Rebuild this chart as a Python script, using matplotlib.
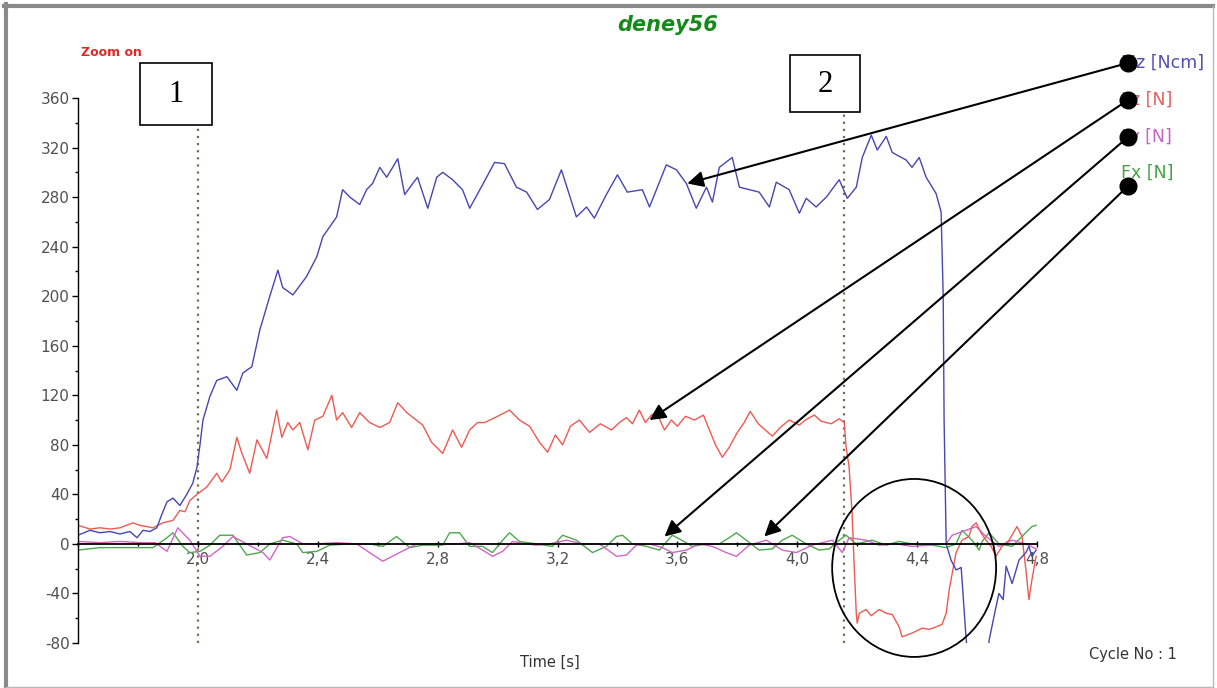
import numpy as np
import matplotlib
matplotlib.use("Agg")
import matplotlib.pyplot as plt
from matplotlib.patches import Ellipse, Rectangle
from matplotlib.lines import Line2D
from matplotlib.ticker import MultipleLocator, FuncFormatter

plt.rcParams["axes.unicode_minus"] = False

# ---------------- measured signals (time in s) ----------------
mz_t = [1.600, 1.640, 1.673, 1.707, 1.740, 1.773, 1.797, 1.817, 1.840, 1.863,
        1.880, 1.897, 1.917, 1.940, 1.963, 1.983, 1.997, 2.007, 2.017, 2.040,
        2.063, 2.097, 2.130, 2.150, 2.180, 2.207, 2.240, 2.267, 2.283, 2.317,
        2.363, 2.397, 2.417, 2.463, 2.483, 2.507, 2.540, 2.563, 2.583, 2.607,
        2.630, 2.650, 2.667, 2.690, 2.717, 2.733, 2.767, 2.797, 2.817, 2.850,
        2.883, 2.907, 2.950, 2.990, 3.023, 3.063, 3.097, 3.133, 3.173, 3.213,
        3.263, 3.297, 3.323, 3.363, 3.400, 3.433, 3.483, 3.507, 3.563, 3.597,
        3.630, 3.663, 3.697, 3.717, 3.740, 3.783, 3.807, 3.840, 3.873, 3.907,
        3.930, 3.973, 4.007, 4.030, 4.063, 4.097, 4.140, 4.167, 4.197, 4.217,
        4.247, 4.267, 4.297, 4.317, 4.363, 4.383, 4.407, 4.430, 4.463, 4.480,
        4.487, 4.490, 4.497, 4.507, 4.513, 4.530, 4.547, 4.553, 4.563, 4.573,
        4.607, 4.633, 4.640, 4.663, 4.673, 4.687, 4.697, 4.717, 4.740, 4.763,
        4.773, 4.783, 4.797]
mz = [7, 11, 9, 10, 8, 10, 5, 11, 10, 13,
      24, 34, 37, 31, 40, 49, 62, 80, 100, 119,
      132, 135, 124, 138, 143, 173, 200, 221, 207, 201,
      216, 232, 248, 264, 286, 280, 274, 286, 291, 304,
      296, 304, 311, 282, 291, 296, 271, 296, 300, 294,
      286, 271, 290, 308, 307, 288, 284, 270, 278, 302,
      264, 272, 263, 282, 298, 284, 286, 272, 306, 302,
      291, 271, 288, 276, 304, 312, 288, 286, 284, 272,
      292, 286, 267, 279, 272, 280, 294, 279, 288, 312,
      330, 318, 329, 316, 310, 304, 312, 296, 283, 268,
      200, 100, 0, -8, -13, -21, -19, -40, -75, -100,
      -115, -95, -78, -51, -40, -45, -18, -32, -13, -7,
      -2, -10, -5]

fz_t = [1.600, 1.640, 1.673, 1.707, 1.740, 1.783, 1.807, 1.850, 1.883, 1.917,
        1.940, 1.957, 1.973, 1.997, 2.030, 2.063, 2.080, 2.107, 2.130, 2.147,
        2.173, 2.197, 2.230, 2.263, 2.280, 2.300, 2.317, 2.340, 2.367, 2.390,
        2.417, 2.447, 2.463, 2.483, 2.513, 2.540, 2.573, 2.607, 2.640, 2.667,
        2.697, 2.750, 2.780, 2.817, 2.850, 2.880, 2.907, 2.933, 2.957, 3.000,
        3.040, 3.073, 3.107, 3.140, 3.167, 3.193, 3.217, 3.243, 3.273, 3.307,
        3.343, 3.380, 3.407, 3.430, 3.450, 3.473, 3.493, 3.513, 3.530, 3.557,
        3.580, 3.600, 3.627, 3.657, 3.687, 3.707, 3.727, 3.750, 3.773, 3.800,
        3.823, 3.843, 3.870, 3.893, 3.917, 3.943, 3.973, 4.007, 4.027, 4.057,
        4.080, 4.113, 4.140, 4.157, 4.163, 4.173, 4.183, 4.190, 4.197, 4.200,
        4.207, 4.230, 4.247, 4.273, 4.297, 4.317, 4.340, 4.350, 4.383, 4.417,
        4.440, 4.463, 4.483, 4.497, 4.507, 4.517, 4.530, 4.550, 4.573, 4.583,
        4.597, 4.613, 4.630, 4.647, 4.663, 4.683, 4.707, 4.733, 4.750, 4.763,
        4.773, 4.783, 4.797]
fz = [15, 12, 13, 12, 13, 17, 15, 13, 17, 19,
      27, 26, 35, 40, 46, 57, 50, 60, 86, 73,
      57, 84, 69, 108, 86, 98, 92, 98, 76, 100,
      103, 120, 100, 106, 94, 106, 98, 94, 98, 114,
      106, 96, 82, 73, 92, 78, 92, 98, 98, 103,
      108, 100, 95, 82, 74, 88, 80, 95, 100, 90,
      97, 92, 98, 102, 97, 108, 98, 104, 106, 92,
      100, 95, 103, 100, 104, 92, 80, 70, 78, 90,
      98, 107, 97, 92, 87, 94, 100, 96, 100, 104,
      99, 97, 101, 98, 78, 62, 25, -18, -56, -64,
      -56, -53, -58, -53, -56, -57, -67, -75, -72, -68,
      -69, -67, -65, -56, -37, -24, -7, 3, 6, 14,
      17, 9, 3, -2, -10, -2, 3, 14, 6, -21,
      -45, -29, -10]

fy_t = [1.600, 1.673, 1.740, 1.807, 1.857, 1.897, 1.933, 1.973, 2.007, 2.040,
        2.083, 2.117, 2.163, 2.217, 2.240, 2.283, 2.307, 2.350, 2.397, 2.463,
        2.530, 2.573, 2.617, 2.673, 2.730, 2.783, 2.863, 2.907, 2.950, 2.983,
        3.017, 3.050, 3.097, 3.130, 3.173, 3.230, 3.283, 3.340, 3.397, 3.430,
        3.463, 3.507, 3.550, 3.583, 3.630, 3.673, 3.717, 3.763, 3.797, 3.840,
        3.897, 3.950, 3.997, 4.050, 4.117, 4.150, 4.173, 4.230, 4.273, 4.330,
        4.383, 4.440, 4.497, 4.517, 4.563, 4.597, 4.630, 4.673, 4.717, 4.763,
        4.797]
fy = [2, 1, 2, 1, 1, -6, 13, 3, -10, -10,
      -2, 6, 0, -7, -13, 5, 6, 0, 0, 1,
      0, -7, -14, -7, 0, 0, 0, 1, -5, -10,
      -6, 2, 0, -1, 0, 3, 0, 0, -10, -9,
      -1, 0, -3, -7, -5, 0, -2, -7, -10, -1,
      3, -5, -7, -1, 3, -7, 5, 3, -1, 0,
      -2, -1, 0, 7, 11, 14, 6, -2, 3, 0,
      -4]

fx_t = [1.600, 1.673, 1.773, 1.850, 1.897, 1.917, 1.950, 1.973, 2.007, 2.040,
        2.073, 2.117, 2.163, 2.207, 2.240, 2.283, 2.330, 2.350, 2.397, 2.440,
        2.507, 2.573, 2.617, 2.640, 2.663, 2.707, 2.750, 2.817, 2.840, 2.873,
        2.907, 2.950, 2.983, 3.017, 3.040, 3.073, 3.130, 3.183, 3.217, 3.263,
        3.317, 3.363, 3.397, 3.417, 3.450, 3.497, 3.540, 3.583, 3.607, 3.650,
        3.697, 3.740, 3.773, 3.797, 3.830, 3.873, 3.917, 3.950, 3.983, 4.030,
        4.073, 4.107, 4.140, 4.163, 4.197, 4.250, 4.297, 4.340, 4.383, 4.450,
        4.497, 4.530, 4.550, 4.583, 4.607, 4.617, 4.640, 4.673, 4.717, 4.750,
        4.783, 4.797]
fx = [-5, -3, -3, -3, 5, 9, -2, -7, -6, -1,
      7, 7, -9, -7, 0, 3, 0, -7, -6, -1,
      0, 0, -2, 2, 6, -3, -1, -1, 9, 9,
      -2, -2, -7, 3, 9, 2, 0, -2, 7, 3,
      -7, -2, 6, 7, 0, -2, -5, 7, 4, -2,
      0, 0, 5, 9, 3, -5, -4, 3, 7, 0,
      -5, -4, 3, 7, 0, 3, -1, 2, 0, -1,
      -3, 0, 11, 3, -5, 2, 9, 0, -2, 6,
      14, 15]

series_names = ["Mz [Ncm]", "Fz [N]", "Fy [N]", "Fx [N]"]
series_colors = ["#4646b4", "#ee5a52", "#d264c8", "#4ea84e"]
legend_colors = ["#5050b4", "#e46060", "#c664c4", "#44a244"]

x_ticks = [2.0, 2.4, 2.8, 3.2, 3.6, 4.0, 4.4, 4.8]
event_times = [2.0, 4.157]          # marked instants 1 and 2
event_labels = ["1", "2"]

# ---------------- figure / layout helpers ----------------
W, H = 1217, 688
fig = plt.figure(figsize=(W / 100, H / 100), dpi=100)
fig.patch.set_facecolor("white")


def fpos(px, py):
    return (px / W, 1 - py / H)


ax = fig.add_axes([78 / W, 1 - 643 / H, (1037 - 78) / W, (643 - 98) / H])
ax.set_xlim(1.6, 4.8)
ax.set_ylim(-80, 360)
ax.patch.set_alpha(0)

# signals, drawn back to front
ax.plot(fx_t, fx, color=series_colors[3], lw=1.0)
ax.plot(fy_t, fy, color=series_colors[2], lw=1.0)
ax.plot(fz_t, fz, color=series_colors[1], lw=1.0)
ax.plot(mz_t, mz, color=series_colors[0], lw=1.0)

# axes styling: y axis on the left, time axis through zero
for side in ("top", "right"):
    ax.spines[side].set_visible(False)
ax.spines["left"].set_linewidth(1.0)
ax.spines["bottom"].set_position(("data", 0))
ax.spines["bottom"].set_linewidth(1.3)
ax.spines["bottom"].set_zorder(3)

ax.yaxis.set_major_locator(MultipleLocator(40))
ax.yaxis.set_minor_locator(MultipleLocator(20))
ax.set_xticks(x_ticks)
ax.xaxis.set_minor_locator(MultipleLocator(0.2))
ax.xaxis.set_major_formatter(FuncFormatter(lambda v, p: f"{v:.1f}".replace(".", ",")))
ax.tick_params(axis="y", which="major", direction="out", length=4, width=1,
               labelsize=11, labelcolor="#505050", pad=2)
ax.tick_params(axis="y", which="minor", direction="out", length=2, width=1)
ax.tick_params(axis="x", which="major", direction="inout", length=5, width=1,
               labelsize=11, labelcolor="#505050", pad=3)
ax.tick_params(axis="x", which="minor", direction="inout", length=3, width=1)

# event markers: dotted verticals topped with numbered boxes
box_px = [(140, 63, 72, 62), (790, 55, 70, 57)]
for t_ev, lab, (bx, by, bw, bh) in zip(event_times, event_labels, box_px):
    top_val = ax.transData.inverted().transform(
        fig.transFigure.transform(fpos(bx + bw / 2, by + bh)))[1]
    ax.plot([t_ev, t_ev], [-80, top_val], color="#6e6e50", lw=1.6,
            ls=(0, (1, 2.2)), clip_on=False, zorder=1)
    fig.add_artist(Rectangle(fpos(bx, by + bh), bw / W, bh / H,
                             transform=fig.transFigure, facecolor="white",
                             edgecolor="black", lw=1.2))
    fig.text(*fpos(bx + bw / 2, by + bh / 2 + 1), lab, ha="center", va="center",
             fontsize=22, family="Liberation Serif", color="black")

# circled region of interest
ax.add_patch(Ellipse((4.39, -19.4), 0.547, 143.7, fill=False, ec="black",
                     lw=1.3, clip_on=False, zorder=4))

# channel labels with pointers
label_py = [63, 100, 137, 173]
dot_py = [63, 100, 137, 186]
arrow_tips = [(3.633, 291), (3.507, 100), (3.557, 6), (3.890, 6)]
for name, col, lpy, dpy, tip in zip(series_names, legend_colors, label_py,
                                    dot_py, arrow_tips):
    fig.text(*fpos(1121, lpy), name, ha="left", va="center", fontsize=12.5,
             color=col)
    ax.annotate("", xy=tip, xycoords="data", xytext=fpos(1128, dpy),
                textcoords="figure fraction", annotation_clip=False,
                arrowprops=dict(arrowstyle="-|>", color="black", lw=1.5,
                                mutation_scale=24, shrinkA=0, shrinkB=0),
                zorder=5)
    fig.add_artist(Line2D([1128 / W], [1 - dpy / H], marker="o", ms=12,
                          color="black", transform=fig.transFigure, zorder=6))

# captions
fig.text(*fpos(668, 25), "deney56", ha="center", va="center", fontsize=15,
         fontweight="bold", fontstyle="italic", color="#17891a")
fig.text(*fpos(111, 52), "Zoom on", ha="center", va="center", fontsize=9,
         fontweight="bold", color="#e02828")
fig.text(*fpos(550, 662), "Time [s]", ha="center", va="center", fontsize=10.5,
         color="#333333")
fig.text(*fpos(1133, 655), "Cycle No : 1", ha="center", va="center",
         fontsize=10.5, color="#333333")

# window frame
frame = [((6, 4), (6, 687), "#8a8a8a", 3.0),
         ((4, 6), (1213, 6), "#8a8a8a", 3.0),
         ((1213, 6), (1213, 687), "#b8b8b8", 1.0),
         ((6, 687), (1213, 687), "#b8b8b8", 1.0)]
for (x0, y0), (x1, y1), c, lw in frame:
    fig.add_artist(Line2D([x0 / W, x1 / W], [1 - y0 / H, 1 - y1 / H], color=c,
                          lw=lw, transform=fig.transFigure))

fig.savefig("out.png", dpi=100)
